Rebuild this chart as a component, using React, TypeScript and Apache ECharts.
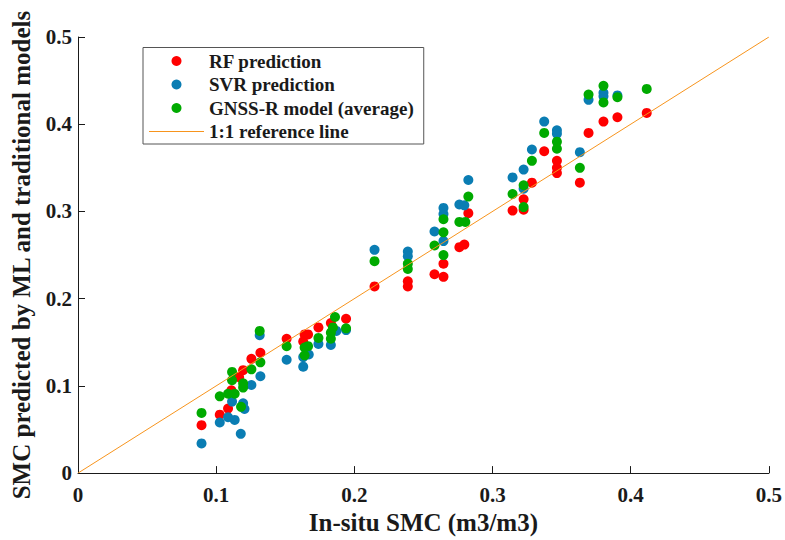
import React, { useEffect, useRef } from "react";
import * as echarts from "echarts";

const rfPoints: number[][] = [
  [0.0894, 0.055], [0.1026, 0.067], [0.1086, 0.074], [0.111, 0.095], [0.1166, 0.11],
  [0.1195, 0.118], [0.1255, 0.131], [0.132, 0.138], [0.151, 0.154], [0.164, 0.159],
  [0.1665, 0.159], [0.163, 0.151], [0.174, 0.167], [0.183, 0.172], [0.194, 0.177],
  [0.2146, 0.214], [0.2387, 0.22], [0.2387, 0.214], [0.258, 0.228], [0.2645, 0.24],
  [0.2645, 0.225], [0.276, 0.259], [0.2796, 0.262], [0.2825, 0.298], [0.3145, 0.301],
  [0.3225, 0.314], [0.3225, 0.302], [0.3285, 0.333], [0.3374, 0.369], [0.3466, 0.358],
  [0.3466, 0.35], [0.3466, 0.344], [0.3632, 0.333], [0.3695, 0.39], [0.3803, 0.403],
  [0.3904, 0.408], [0.4116, 0.413],
];

const svrPoints: number[][] = [
  [0.0894, 0.034], [0.1026, 0.058], [0.1086, 0.064], [0.1115, 0.082], [0.1134, 0.061],
  [0.1178, 0.045], [0.1195, 0.08], [0.1205, 0.0735], [0.1255, 0.101], [0.132, 0.111],
  [0.1315, 0.158], [0.151, 0.13], [0.163, 0.122], [0.163, 0.133], [0.167, 0.136],
  [0.174, 0.148], [0.183, 0.147], [0.187, 0.163], [0.194, 0.164],
  [0.2146, 0.256], [0.2387, 0.254], [0.2387, 0.2485], [0.258, 0.277], [0.2645, 0.304],
  [0.2645, 0.297], [0.2645, 0.266], [0.276, 0.308], [0.2796, 0.307], [0.2825, 0.336],
  [0.3145, 0.339], [0.3225, 0.348], [0.3225, 0.326], [0.3285, 0.371], [0.3374, 0.403],
  [0.3466, 0.393], [0.3466, 0.389], [0.3632, 0.368], [0.3695, 0.428], [0.3803, 0.436],
  [0.3803, 0.432], [0.3904, 0.433],
];

const gnssPoints: number[][] = [
  [0.0894, 0.069], [0.1026, 0.088], [0.1086, 0.091], [0.1115, 0.116], [0.1115, 0.1065],
  [0.1134, 0.091], [0.118, 0.076], [0.1195, 0.103], [0.1195, 0.098], [0.1255, 0.119],
  [0.132, 0.127], [0.1315, 0.163], [0.151, 0.1455], [0.164, 0.144], [0.164, 0.135],
  [0.1665, 0.1455], [0.174, 0.155], [0.183, 0.154], [0.183, 0.161], [0.1845, 0.167],
  [0.186, 0.179], [0.194, 0.166],
  [0.2146, 0.243], [0.2387, 0.24], [0.2387, 0.234], [0.258, 0.261], [0.2645, 0.291],
  [0.2645, 0.276], [0.2645, 0.25], [0.276, 0.288], [0.2803, 0.288], [0.2825, 0.317],
  [0.3145, 0.32], [0.3225, 0.33], [0.3225, 0.305], [0.3285, 0.358], [0.3374, 0.39],
  [0.3466, 0.38], [0.3466, 0.372], [0.3632, 0.35], [0.3695, 0.434], [0.3803, 0.444],
  [0.3803, 0.425], [0.3904, 0.431], [0.4116, 0.4405],
];

const refLine: number[][] = [[0, 0], [0.5, 0.5]];

const seriesNames = ["RF prediction", "SVR prediction", "GNSS-R model (average)", "1:1 reference line"];
const xTitle = "In-situ SMC (m3/m3)";
const yTitle = "SMC predicted by ML and traditional models";

const FONT = "'Liberation Serif', 'Times New Roman', serif";
const INK = "#1a1a1a";
const LINE_COLOR = "#f7941d";

export default function App() {
  const ref = useRef<HTMLDivElement>(null);
  useEffect(() => {
    document.body.style.margin = "0";
    if (!ref.current) return;
    const chart = echarts.init(ref.current, undefined, { renderer: "svg" });
    const axisCommon = {
      type: "value" as const,
      min: 0,
      max: 0.5,
      interval: 0.1,
      splitLine: { show: false },
      axisLine: { show: true, lineStyle: { color: INK, width: 1 } },
      axisTick: { show: true, inside: true, length: 7, lineStyle: { color: INK } },
      nameLocation: "middle" as const,
      nameTextStyle: { fontFamily: FONT, fontWeight: "bold" as const, fontSize: 25, color: INK },
    };
    chart.setOption({
      animation: false,
      backgroundColor: "#ffffff",
      grid: { left: 78, top: 37, width: 692, height: 440, containLabel: false },
      legend: {
        orient: "vertical",
        left: 143,
        top: 47.5,
        padding: [4, 10, 3, 6],
        borderColor: "#555",
        borderWidth: 1,
        itemWidth: 55,
        itemHeight: 10,
        itemGap: 4.5,
        symbolKeepAspect: true,
        data: [
          { name: seriesNames[0], icon: "circle" },
          { name: seriesNames[1], icon: "circle" },
          { name: seriesNames[2], icon: "circle" },
          {
            name: seriesNames[3],
            icon: "path://M0,0L55,0L55,1.2L0,1.2Z",
            itemStyle: { color: LINE_COLOR },
          },
        ],
        textStyle: { fontFamily: FONT, fontWeight: "bold", fontSize: 19, color: INK, lineHeight: 19 },
      },
      xAxis: {
        ...axisCommon,
        name: xTitle,
        nameGap: 30,
        axisLabel: { fontFamily: FONT, fontWeight: "bold", fontSize: 21, color: INK, margin: 11 },
      },
      yAxis: {
        ...axisCommon,
        name: yTitle,
        nameGap: 44,
        axisLabel: { fontFamily: FONT, fontWeight: "bold", fontSize: 21, color: INK, margin: 6 },
      },
      series: [
        {
          name: seriesNames[0],
          type: "scatter",
          data: rfPoints,
          symbolSize: 10,
          itemStyle: { color: "#ff0000", opacity: 1 },
        },
        {
          name: seriesNames[1],
          type: "scatter",
          data: svrPoints,
          symbolSize: 10,
          itemStyle: { color: "#0a7db3", opacity: 1 },
        },
        {
          name: seriesNames[2],
          type: "scatter",
          data: gnssPoints,
          symbolSize: 10,
          itemStyle: { color: "#00aa00", opacity: 1 },
        },
        {
          name: seriesNames[3],
          type: "line",
          data: refLine,
          symbol: "none",
          lineStyle: { color: LINE_COLOR, width: 1 },
          itemStyle: { color: LINE_COLOR },
          z: 5,
        },
      ],
    });
    return () => chart.dispose();
  }, []);
  return <div ref={ref} style={{ position: "fixed", left: 0, top: 0, width: 785, height: 540 }} />;
}
